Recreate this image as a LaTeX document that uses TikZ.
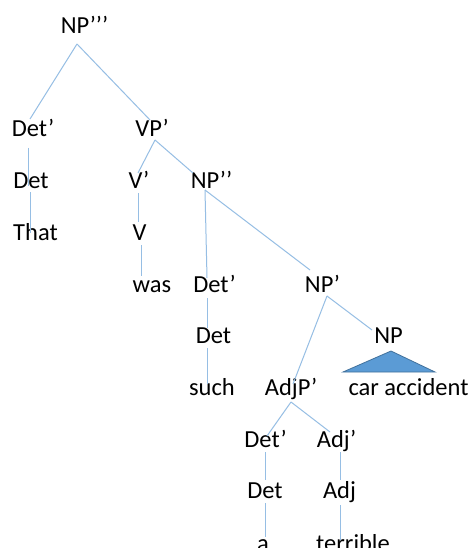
\documentclass[tikz,border=0pt]{standalone}
\usepackage{fontspec}
\setmainfont{Carlito}
\definecolor{edgeblue}{RGB}{150,190,228}
\definecolor{trifill}{RGB}{91,155,213}
\definecolor{triline}{RGB}{65,113,156}
\begin{document}
\begin{tikzpicture}[x=1pt,y=-1pt,
  tx/.style={inner sep=0pt, anchor=base, font=\fontsize{24.5}{29}\selectfont},
  edge/.style={draw=edgeblue, line width=1pt},
  tri/.style={fill=trifill, draw=triline, line width=0.8pt, line join=miter}]
\clip (0,0) rectangle (472,548);
\fill[white] (0,0) rectangle (472,548);
% nodes
\node[tx] (nppp)  at (84.5,34)  {NP’’’};
\node[tx] (detpa) at (33,137)   {Det’};
\node[tx] (vpp)   at (152,137)  {VP’};
\node[tx] (deta)  at (31,188)   {Det};
\node[tx] (vprime) at (139,188) {V’};
\node[tx] (npdd)  at (211.5,188) {NP’’};
\node[tx] (that)  at (35.5,240) {That};
\node[tx] (vv)    at (139.5,240) {V};
\node[tx] (was)   at (152,292)  {was};
\node[tx] (detpb) at (214.5,292) {Det’};
\node[tx] (npp)   at (322.5,292) {NP’};
\node[tx] (detb)  at (213.5,343) {Det};
\node[tx] (np)    at (388.5,343) {NP};
\node[tx] (such)  at (212,395)  {such};
\node[tx] (adjpp) at (291,395)  {AdjP’};
\node[tx] (car)   at (408.5,395) {car accident};
\node[tx] (detpc) at (265.5,447) {Det’};
\node[tx] (adjp)  at (336.5,447) {Adj’};
\node[tx] (detc)  at (265,498)  {Det};
\node[tx] (adj)   at (339.5,498) {Adj};
\node[tx] (aa)    at (263,551)  {a};
\node[tx] (terr)  at (353,551)  {terrible};
% connectors
\draw[edge] ([shift={(-7.5,10)}]nppp.base) -- ([shift={(-3,-18)}]detpa.base);
\draw[edge] ([shift={(-7.5,10)}]nppp.base) -- ([shift={(-2,-17)}]vpp.base);
\draw[edge] ([shift={(-5,11)}]detpa.base) -- ([shift={(-3,-2)}]deta.base);
\draw[edge] ([shift={(-1,4)}]deta.base) -- ([shift={(-5.5,-7)}]that.base);
\draw[edge] ([shift={(3,3)}]vpp.base) -- ([shift={(-1,-15)}]vprime.base);
\draw[edge] ([shift={(3,3)}]vpp.base) -- ([shift={(-18.5,-15)}]npdd.base);
\draw[edge] ([shift={(-1,5)}]vprime.base) -- ([shift={(-1.5,-18)}]vv.base);
\draw[edge] ([shift={(1.5,5)}]vv.base) -- ([shift={(-11,-16)}]was.base);
\draw[edge] ([shift={(-6.5,2)}]npdd.base) -- ([shift={(-7.5,-14)}]detpb.base);
\draw[edge] ([shift={(-6.5,2)}]npdd.base) -- ([shift={(-12.5,-22)}]npp.base);
\draw[edge] ([shift={(-7.5,6)}]detpb.base) -- ([shift={(-6.5,-15)}]detb.base);
\draw[edge] ([shift={(-6.5,5)}]detb.base) -- ([shift={(-5,-11)}]such.base);
\draw[edge] ([shift={(4.5,4)}]npp.base) -- ([shift={(2,-11)}]adjpp.base);
\draw[edge] ([shift={(4.5,4)}]npp.base) -- ([shift={(-16.5,-13)}]np.base);
\draw[edge] ([shift={(0,7)}]adjpp.base) -- ([shift={(1.5,-11)}]detpc.base);
\draw[edge] ([shift={(0,7)}]adjpp.base) -- ([shift={(-6.5,-15)}]adjp.base);
\draw[edge] ([shift={(-0.5,5)}]detpc.base) -- ([shift={(0,-18)}]detc.base);
\draw[edge] ([shift={(0,5)}]detc.base) -- ([shift={(2,-14)}]aa.base);
\draw[edge] ([shift={(3.5,5)}]adjp.base) -- ([shift={(0.5,-18)}]adj.base);
\draw[edge] ([shift={(0.5,7)}]adj.base) -- ([shift={(-13,-11)}]terr.base);
% triangle under NP
\draw[tri] ([shift={(2.5,8)}]np.base) -- ([shift={(-45.5,29)}]np.base) -- ([shift={(46.5,29)}]np.base) -- cycle;
\end{tikzpicture}
\end{document}
